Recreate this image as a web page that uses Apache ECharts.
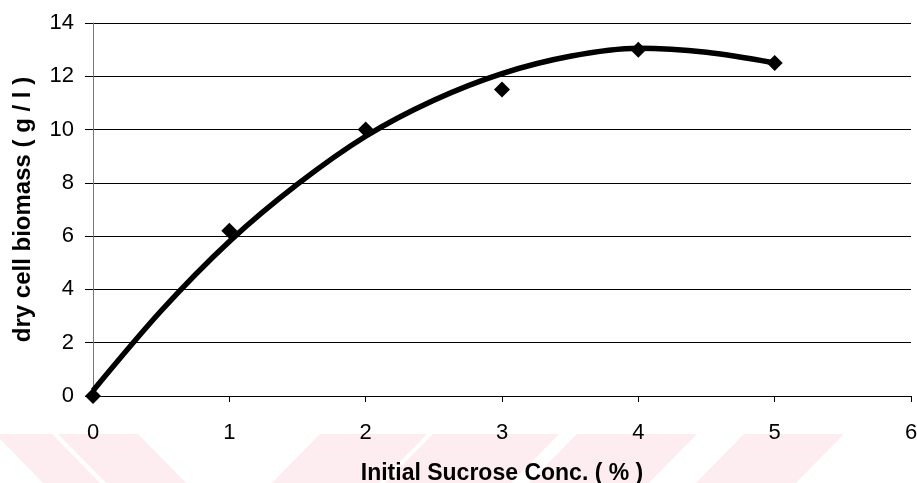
<!DOCTYPE html>
<html>
<head>
<meta charset="utf-8">
<script src="https://cdn.jsdelivr.net/npm/echarts@6/dist/echarts.min.js"></script>
<style>
  html, body { margin: 0; padding: 0; background: #ffffff; }
  #chart { width: 917px; height: 483px; }
</style>
</head>
<body>
<div id="chart"></div>
<script>
// Measured dry cell biomass at each initial sucrose concentration
const sucroseConc = [0, 1, 2, 3, 4, 5];
const biomass = [0, 6.2, 10, 11.5, 13, 12.5];

// Polynomial trend line through the measurements
const trendConc = [0, 0.5, 1, 1.5, 2, 2.5, 3, 3.5, 4, 4.5, 5];
const trendBiomass = [0.2, 3.2, 5.8, 7.95, 9.75, 11.1, 12.1, 12.75, 13.05, 12.9, 12.5];

// Axis ranges
const xTicks = [0, 1, 2, 3, 4, 5, 6];
const yTicks = [0, 2, 4, 6, 8, 10, 12, 14];

const FONT = '"Liberation Sans", Arial, sans-serif';

// Pale diagonal band decoration along the bottom edge
function band(topL, topR, botL, botR) {
  return {
    type: 'polygon',
    silent: true,
    z: -10,
    shape: { points: [[topL, 434], [topR, 434], [botR, 490], [botL, 490]] },
    style: { fill: '#fdedf0' }
  };
}

const chart = echarts.init(document.getElementById('chart'), null, { renderer: 'canvas' });

chart.setOption({
  backgroundColor: '#ffffff',
  animation: false,
  graphic: [
    band(-5, 52, 50, 107),
    band(58, 138, 113, 193),
    band(320, 427, 265, 372),
    band(433, 559, 378, 504),
    band(577, 697, 522, 642),
    band(744, 844, 689, 789)
  ],
  grid: { left: 93, right: 6, top: 23, bottom: 87, containLabel: false, outerBoundsMode: 'none' },
  xAxis: {
    type: 'value',
    min: xTicks[0],
    max: xTicks[xTicks.length - 1],
    interval: xTicks[1] - xTicks[0],
    name: 'Initial Sucrose Conc. ( % )',
    nameLocation: 'middle',
    nameGap: 66,
    nameTextStyle: { fontFamily: FONT, fontWeight: 'bold', fontSize: 23, color: '#000' },
    axisLine: { show: true, lineStyle: { color: '#000', width: 1 } },
    axisTick: { show: true, length: 6, lineStyle: { color: '#000', width: 1 } },
    axisLabel: { margin: 26, fontFamily: FONT, fontSize: 22, color: '#000' },
    splitLine: { show: false }
  },
  yAxis: {
    type: 'value',
    min: yTicks[0],
    max: yTicks[yTicks.length - 1],
    interval: yTicks[1] - yTicks[0],
    name: 'dry cell biomass ( g / l )',
    nameLocation: 'middle',
    nameGap: 58,
    nameTextStyle: { fontFamily: FONT, fontWeight: 'bold', fontSize: 24, color: '#000' },
    axisLine: { show: true, lineStyle: { color: '#777', width: 1 } },
    axisTick: { show: true, length: 8, lineStyle: { color: '#000', width: 1 } },
    axisLabel: { margin: 19, fontFamily: FONT, fontSize: 22, color: '#000' },
    splitLine: { show: true, lineStyle: { color: '#000', width: 1 } }
  },
  series: [
    {
      type: 'line',
      data: trendConc.map((x, i) => [x, trendBiomass[i]]),
      smooth: 0.3,
      showSymbol: false,
      lineStyle: { color: '#000', width: 5.5 },
      z: 2
    },
    {
      type: 'scatter',
      data: sucroseConc.map((x, i) => [x, biomass[i]]),
      symbol: 'diamond',
      symbolSize: [16, 16],
      itemStyle: { color: '#000', opacity: 1 },
      z: 3
    }
  ]
});
</script>
</body>
</html>
